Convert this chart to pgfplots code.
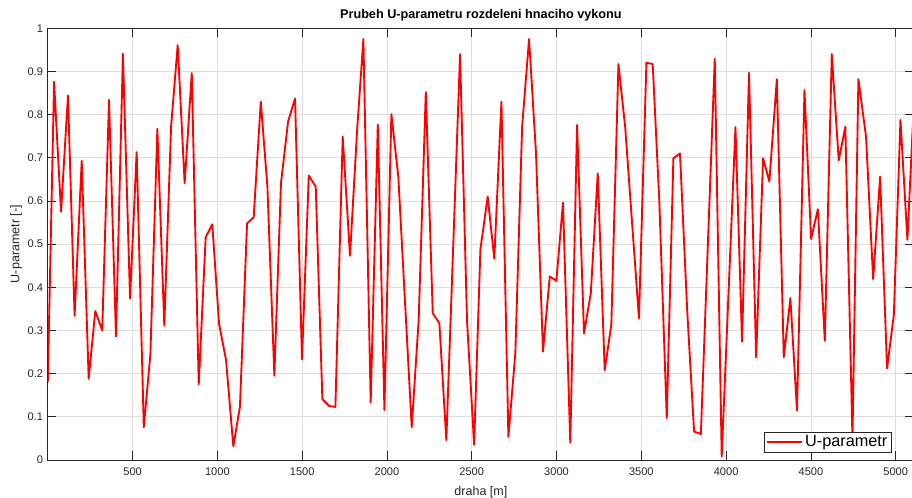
\documentclass[border=0pt]{standalone}
\usepackage{pgfplots}
\pgfplotsset{compat=1.18}
\usepackage{fontspec}
\setmainfont{Liberation Sans}
\definecolor{axgray}{RGB}{38,38,38}
\definecolor{gridc}{RGB}{222,222,222}
\begin{document}
\begin{tikzpicture}
\begin{axis}[
  scale only axis,
  width=649.65pt, height=323.8pt,
  xmin=0, xmax=5108, ymin=0, ymax=1,
  xtick={500,1000,1500,2000,2500,3000,3500,4000,4500,5000},
  ytick={0,0.1,0.2,0.3,0.4,0.5,0.6,0.7,0.8,0.9,1},
  yticklabels={0,0.1,0.2,0.3,0.4,0.5,0.6,0.7,0.8,0.9,1},
  /pgf/number format/1000 sep={},
  /pgf/number format/assume math mode=true,
  tick label style={font=\fontsize{8.3}{10}\selectfont, text=axgray},
  xticklabel style={yshift=-2.5pt},
  major tick length=6.5pt,
  tick style={axgray, line width=0.6pt},
  axis line style={axgray, line width=0.7pt},
  grid=major,
  major grid style={gridc, line width=0.6pt},
  title={Prubeh U-parametru rozdeleni hnaciho vykonu},
  title style={font=\bfseries\fontsize{9.5}{11}\selectfont, yshift=-4.5pt},
  xlabel={draha [m]},
  ylabel={U-parametr [-]},
  label style={font=\fontsize{9.4}{11}\selectfont, text=axgray},
  xlabel style={yshift=-1pt},
  ylabel style={yshift=-2.5pt},
  legend style={at={(0.9743,0.0169)}, anchor=south east,
    font=\fontsize{12.2}{13}\selectfont, draw=axgray, line width=0.6pt,
    inner xsep=1pt, inner ysep=0.5pt, cells={anchor=west}},
  legend image code/.code={\draw[#1] (0pt,0pt) -- (26pt,0pt);},
]
\addplot[red, line width=1.4pt, line join=round] coordinates {
(0,0.181) (37,0.876) (78,0.575) (119,0.844) (158,0.334) (200,0.693)
(241,0.188) (280,0.345) (321,0.300) (361,0.834) (402,0.286) (443,0.941)
(485,0.374) (524,0.713) (566,0.076) (605,0.245) (646,0.767) (687,0.311)
(727,0.772) (766,0.961) (807,0.641) (849,0.896) (890,0.175) (931,0.516)
(970,0.546) (1010,0.315) (1051,0.232) (1094,0.032) (1133,0.123) (1175,0.548)
(1214,0.562) (1256,0.830) (1295,0.633) (1336,0.195) (1375,0.641) (1417,0.784)
(1458,0.837) (1499,0.233) (1539,0.659) (1580,0.633) (1619,0.141) (1660,0.125)
(1696,0.123) (1739,0.749) (1782,0.473) (1824,0.764) (1861,0.975) (1904,0.133)
(1946,0.777) (1985,0.116) (2026,0.801) (2067,0.656) (2146,0.076) (2187,0.324)
(2229,0.852) (2270,0.340) (2309,0.317) (2350,0.046) (2431,0.940) (2472,0.324)
(2514,0.035) (2551,0.488) (2594,0.610) (2633,0.466) (2675,0.830) (2716,0.054)
(2757,0.247) (2797,0.772) (2838,0.975) (2879,0.710) (2920,0.251) (2960,0.425)
(2999,0.415) (3038,0.596) (3081,0.040) (3121,0.776) (3162,0.293) (3202,0.386)
(3243,0.664) (3284,0.208) (3323,0.313) (3365,0.917) (3405,0.770) (3486,0.328)
(3530,0.920) (3567,0.917) (3606,0.600) (3650,0.097) (3689,0.699) (3728,0.710)
(3770,0.350) (3811,0.066) (3851,0.060) (3933,0.929) (3974,0.008) (4055,0.771)
(4094,0.274) (4135,0.897) (4177,0.238) (4218,0.699) (4255,0.645) (4299,0.882)
(4340,0.238) (4379,0.375) (4418,0.114) (4462,0.857) (4501,0.512) (4541,0.581)
(4582,0.276) (4623,0.940) (4664,0.694) (4703,0.772) (4745,0.050) (4780,0.882)
(4825,0.749) (4867,0.419) (4908,0.656) (4949,0.212) (4989,0.336) (5028,0.788)
(5069,0.510) (5110,0.850)
};
\addlegendentry{U-parametr}
\end{axis}
\pgfresetboundingbox
\useasboundingbox (-35.85pt,-28.5pt) rectangle (648.15pt,345pt);
\end{tikzpicture}
\end{document}
